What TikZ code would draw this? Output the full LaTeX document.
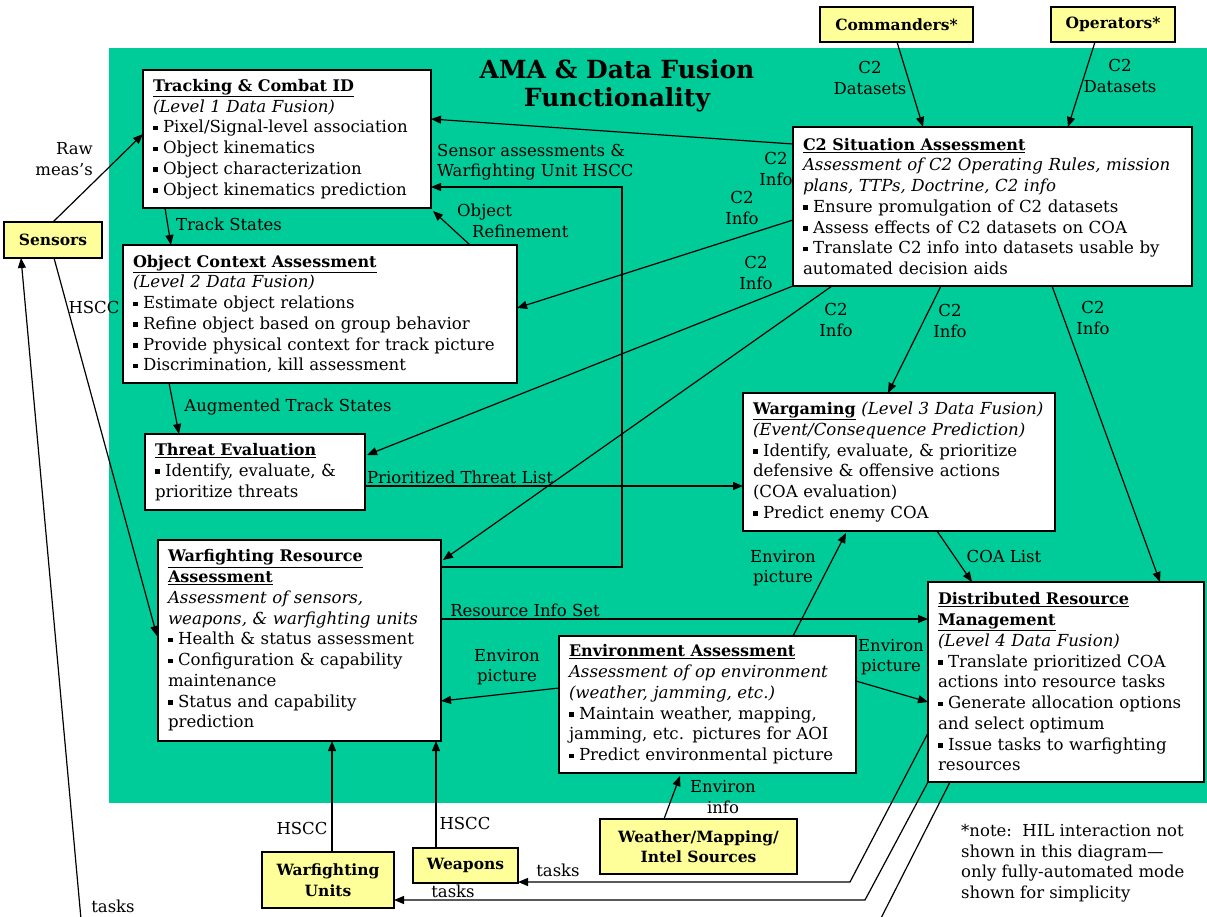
\documentclass[tikz,border=0pt]{standalone}
\usepackage{fontspec}
\setmainfont{DejaVu Serif}
\usetikzlibrary{arrows.meta,calc}
\definecolor{bggreen}{RGB}{0,204,153}
\definecolor{yel}{RGB}{255,255,153}
\newcommand\bul{\rule[2.5pt]{4.5pt}{4.5pt}\ }
\newcommand\ttl[1]{\underline{\fontsize{16}{20.75}\selectfont\textbf{#1}}}
\begin{document}
\begin{tikzpicture}[x=1pt,y=-1pt,
  box/.style={draw, fill=white, line width=1.5pt, anchor=north west, align=left,
    inner xsep=10pt, inner ysep=0pt, outer sep=0pt,
    font=\fontsize{16.6}{20.75}\selectfont},
  ybox/.style={draw, fill=yel, line width=1.6pt, anchor=north west, align=center,
    inner sep=0pt, outer sep=0pt, font=\fontsize{15.5}{20.5}\selectfont\bfseries},
  lbl/.style={inner sep=0pt, align=center, font=\fontsize{16.5}{20.5}\selectfont},
  arr/.style={line width=1.2pt, -{Triangle[length=10pt,width=8pt]}},
]
\useasboundingbox (0,0) rectangle (1207,917);
\fill[bggreen] (109,48) rectangle (1207,803);

\node[font=\fontsize{25}{28}\selectfont\bfseries, align=center] (title) at (617,86)
  {AMA \& Data Fusion\\Functionality};

% boxes
\node[box, text width=268pt, minimum height=138pt] (track) at (143,70)
 {\ttl{Tracking \& Combat ID}\\
  \textit{(Level 1 Data Fusion)}\\
  \bul Pixel/Signal-level association\\
  \bul Object kinematics\\
  \bul Object characterization\\
  \bul Object kinematics prediction};
\node[box, text width=374pt, minimum height=138pt] (oca) at (123,245)
 {\ttl{Object Context Assessment}\\
  \textit{(Level 2 Data Fusion)}\\
  \bul Estimate object relations\\
  \bul Refine object based on group behavior\\
  \bul Provide physical context for track picture\\
  \bul Discrimination, kill assessment};
\node[box, text width=200pt, minimum height=76pt] (threat) at (145,434)
 {\ttl{Threat Evaluation}\\
  \bul Identify, evaluate, \&\\
  prioritize threats};
\node[box, text width=263pt, minimum height=201pt] (wra) at (158,540)
 {\ttl{Warfighting Resource}\\
  \ttl{Assessment}\\
  \textit{Assessment of sensors,}\\
  \textit{weapons, \& warfighting units}\\
  \bul Health \& status assessment\\
  \bul Configuration \& capability\\
  maintenance\\
  \bul Status and capability\\
  prediction};
\node[box, text width=379pt, minimum height=159pt] (c2) at (793,127)
 {\ttl{C2 Situation Assessment}\\
  \textit{Assessment of C2 Operating Rules, mission}\\
  \textit{plans, TTPs, Doctrine, C2 info}\\
  \bul Ensure promulgation of C2 datasets\\
  \bul Assess effects of C2 datasets on COA\\
  \bul Translate C2 info into datasets usable by\\
  automated decision aids};
\node[box, text width=292pt, minimum height=138pt] (war) at (743,393)
 {\ttl{Wargaming} \textit{(Level 3 Data Fusion)}\\
  \textit{(Event/Consequence Prediction)}\\
  \bul Identify, evaluate, \& prioritize\\
  defensive \& offensive actions\\
  (COA evaluation)\\
  \bul Predict enemy COA};
\node[box, text width=256pt, minimum height=200pt] (drm) at (928,582)
 {\ttl{Distributed Resource}\\
  \ttl{Management}\\
  \textit{(Level 4 Data Fusion)}\\
  \bul Translate prioritized COA\\
  actions into resource tasks\\
  \bul Generate allocation options\\
  and select optimum\\
  \bul Issue tasks to warfighting\\
  resources};
\node[box, text width=277pt, minimum height=137pt] (env) at (559,636)
 {\ttl{Environment Assessment}\\
  \textit{Assessment of op environment}\\
  \textit{(weather, jamming, etc.)}\\
  \bul Maintain weather, mapping,\\
  jamming, etc. pictures for AOI\\
  \bul Predict environmental picture};

% yellow boxes
\node[ybox, minimum width=98pt, minimum height=36pt] (sensors) at (4,222) {Sensors};
\node[ybox, minimum width=153pt, minimum height=35pt] (cmd) at (820,7) {Commanders*};
\node[ybox, minimum width=124pt, minimum height=35pt] (ops) at (1051,7) {Operators*};
\node[ybox, minimum width=132pt, minimum height=56pt] (wu) at (262,852) {Warfighting\\Units};
\node[ybox, minimum width=105pt, minimum height=35pt] (weap) at (413,848) {Weapons};
\node[ybox, minimum width=197pt, minimum height=55pt] (wx) at (600,819) {Weather/Mapping/\\Intel Sources};

% connectors
\draw[arr] ($(sensors.north west)+(49,0)$) -- ($(track.north west)+(0,64)$);
\draw[arr] ($(c2.north west)+(0,17)$) -- ($(track.north east)+(0,49)$);
\draw[arr] ($(wra.north east)+(0,27)$) -- ++(181,0) |- ($(track.north east)+(0,117)$);
\draw[arr] ($(oca.north west)+(347,0)$) -- ($(track.south east)+(2,3)$);
\draw[arr] ($(track.south west)+(22,0)$) -- ($(oca.north west)+(48,0)$);
\draw[arr] ($(c2.north west)+(0,93)$) -- ($(oca.north east)+(0,63)$);
\draw[arr] (c2.south west) -- ($(threat.north east)+(2,21)$);
\draw[arr] ($(c2.south west)+(39,0)$) -- ($(wra.north east)+(2,20)$);
\draw[arr] ($(c2.south west)+(148,0)$) -- ($(war.north west)+(145,0)$);
\draw[arr] ($(c2.south west)+(259,0)$) -- ($(drm.north west)+(232,0)$);
\draw[arr] ($(oca.south west)+(46,0)$) -- ($(threat.north west)+(34,0)$);
\draw[arr] ($(threat.north east)+(0,52)$) -- ($(war.north west)+(0,93)$);
\draw[arr] ($(war.south west)+(194,0)$) -- ($(drm.north west)+(44,0)$);
\draw[arr] ($(env.north west)+(234,0)$) -- ($(war.south west)+(103,2)$);
\draw[arr] ($(wra.north east)+(0,79)$) -- ($(drm.north west)+(0,37)$);
\draw[arr] ($(env.north west)+(0,52)$) -- ($(wra.north east)+(0,161)$);
\draw[arr] ($(env.north east)+(0,45)$) -- ($(drm.north west)+(0,120)$);
\draw[arr] ($(sensors.south west)+(50,0)$) -- ($(wra.north west)+(-1,96)$);
\draw[arr] ($(wu.north west)+(70,0)$) -- ($(wra.south west)+(174,0)$);
\draw[arr] ($(weap.north west)+(23,0)$) -- ($(wra.south west)+(278,0)$);
\draw[arr] ($(wx.north west)+(64,0)$) -- ($(env.south west)+(121,3)$);
\draw[arr] ($(drm.north west)+(0,151)$) -- ++(-78,149) -- ($(weap.north east)+(0,34)$);
\draw[arr] (drm.south west) -- ++(-63,118) -- ($(wu.north east)+(0,48)$);
\coordinate (offb1) at (875,930);
\coordinate (offb2) at (82,930);
\draw[arr] ($(drm.south west)+(22,0)$) -- (offb1) -- (offb2) -- ($(sensors.south west)+(17,0)$);
\draw[arr] ($(cmd.south west)+(77,0)$) -- ($(c2.north west)+(130,0)$);
\draw[arr] ($(ops.south west)+(44,0)$) -- ($(c2.north west)+(275,0)$);

% labels
\node[lbl, align=right, anchor=east] (l1) at (93,159) {Raw\\meas's};
\node[lbl, align=left, anchor=west] (l2) at (437,162) {Sensor assessments \&\\Warfighting Unit HSCC};
\node[lbl, align=left, anchor=west] (l3) at (457,221) {Object\\\hspace*{15pt}Refinement};
\node[lbl] (l4) at (229,224) {Track States};
\node[lbl] (l5) at (776,169) {C2\\Info};
\node[lbl] (l6) at (742,208) {C2\\Info};
\node[lbl] (l7) at (756,273) {C2\\Info};
\node[lbl] (l8) at (836,320) {C2\\Info};
\node[lbl] (l9) at (950,321) {C2\\Info};
\node[lbl] (l10) at (1093,318) {C2\\Info};
\node[lbl] (l11) at (870,78) {C2\\Datasets};
\node[lbl] (l12) at (1120,76) {C2\\Datasets};
\node[lbl] (l13) at (288,407) {Augmented Track States};
\node[lbl] (l14) at (460,477) {Prioritized Threat List};
\node[lbl] (l15) at (1004,556) {COA List};
\node[lbl] (l16) at (783,568) {Environ\\picture};
\node[lbl] (l17) at (525,610) {Resource Info Set};
\node[lbl] (l18) at (507,667) {Environ\\picture};
\node[lbl] (l19) at (891,657) {Environ\\picture};
\node[lbl] (l20) at (723,797) {Environ\\info};
\node[lbl] (l21) at (94,307) {HSCC};
\node[lbl] (l22) at (302,828) {HSCC};
\node[lbl] (l23) at (465,823) {HSCC};
\node[lbl] (l24) at (558,870) {tasks};
\node[lbl] (l25) at (453,891) {tasks};
\node[lbl] (l26) at (113,906) {tasks};
\node[lbl, align=left, anchor=west] (note) at (961,863)
  {*note:\ \ HIL interaction not\\shown in this diagram---\\only fully-automated mode\\shown for simplicity};
\end{tikzpicture}
\end{document}
